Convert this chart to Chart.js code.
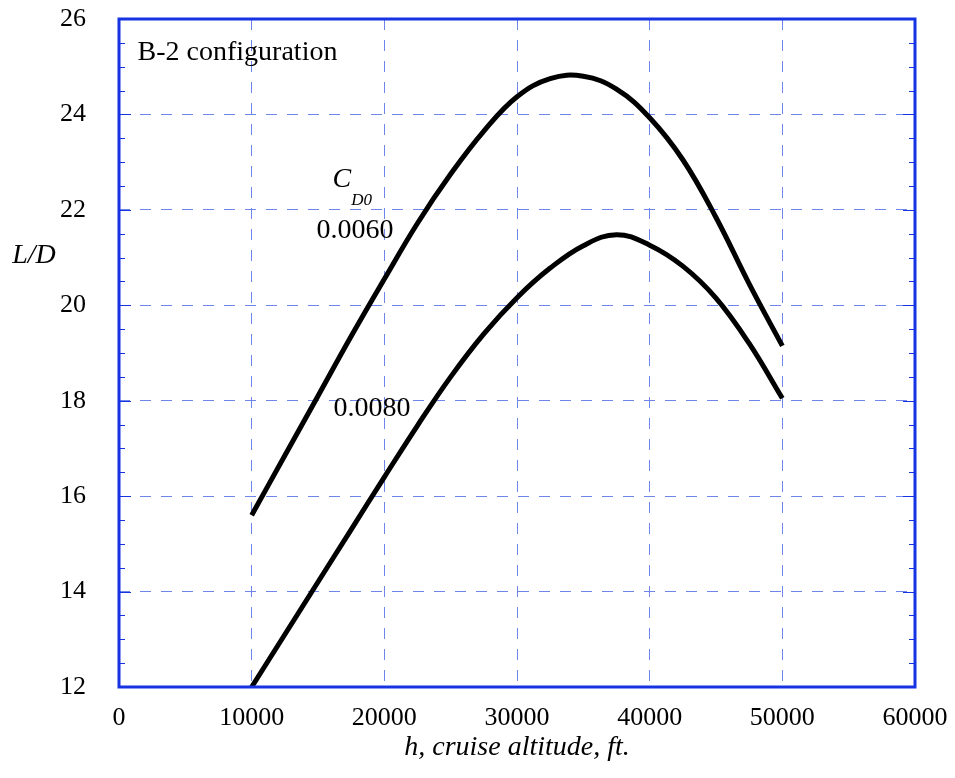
<!DOCTYPE html>
<html>
<head>
<meta charset="utf-8">
<script src="https://cdn.jsdelivr.net/npm/chart.js@4.4.1/dist/chart.umd.min.js"></script>
<style>
html,body{margin:0;padding:0;background:#fff;}
#wrap{width:955px;height:778px;position:relative;}
</style>
</head>
<body>
<div id="wrap"><canvas id="c" width="955" height="778"></canvas></div>
<script>
// ---- data ----
const altitude = [10000,12500,15000,17500,20000,22500,25000,27500,30000,32500,35000,37500,40000,42500,45000,47500,50000];
const ldUpper  = [15.6,16.85,18.1,19.35,20.55,21.72,22.75,23.65,24.37,24.75,24.8,24.53,23.93,23.05,21.84,20.45,19.15];
const ldLower  = [12.0,13.1,14.2,15.3,16.4,17.48,18.5,19.4,20.16,20.78,21.25,21.48,21.26,20.82,20.15,19.2,18.05];
const seriesNames = ['0.0060','0.0080'];
const xTicks = [0,10000,20000,30000,40000,50000,60000];
const yTicks = [12,14,16,18,20,22,24,26];
const titleText = 'B-2 configuration';
const xTitle = 'h, cruise altitude, ft.';
const yTitle = 'L/D';

const BLUE = '#1533e3';
const GRID = '#6e86ea';
const SERIF = '"Liberation Serif", "DejaVu Serif", serif';

const mk = (xs, ys) => xs.map((x,i)=>({x:x, y:ys[i]}));

const decor = {
  id:'decor',
  afterDraw(chart){
    const {ctx, chartArea:a, scales:{x, y}} = chart;
    ctx.save();
    ctx.strokeStyle = BLUE; ctx.lineWidth = 1.2;
    for (let v = 12.5; v < 26; v += 0.5){
      const py = Math.round(y.getPixelForValue(v)) + 0.5;
      const major = Math.abs(v/2 - Math.round(v/2)) < 1e-6;
      const len = major ? 12 : 6;
      ctx.beginPath();
      ctx.moveTo(a.left, py); ctx.lineTo(a.left + len, py);
      ctx.moveTo(a.right, py); ctx.lineTo(a.right - len, py);
      ctx.stroke();
    }
    ctx.strokeStyle = BLUE; ctx.lineWidth = 3;
    ctx.strokeRect(a.left, a.top, a.right - a.left, a.bottom - a.top);
    ctx.fillStyle = '#000';
    ctx.textBaseline = 'middle';
    ctx.textAlign = 'left';
    ctx.font = '28px ' + SERIF;
    ctx.fillText(titleText, x.getPixelForValue(1400), y.getPixelForValue(25.3));
    ctx.textAlign = 'center';
    ctx.fillText(seriesNames[0], x.getPixelForValue(17790), y.getPixelForValue(21.57));
    ctx.fillText(seriesNames[1], x.getPixelForValue(19070), y.getPixelForValue(17.84));
    ctx.textAlign = 'left';
    ctx.font = 'italic 28px ' + SERIF;
    ctx.fillText('C', x.getPixelForValue(16100), y.getPixelForValue(22.64));
    ctx.font = 'italic 17px ' + SERIF;
    ctx.fillText('D0', x.getPixelForValue(17500), y.getPixelForValue(22.2));
    ctx.font = 'italic 28px ' + SERIF;
    ctx.textAlign = 'center';
    ctx.fillText(yTitle, a.left - 85, y.getPixelForValue(21.05));
    ctx.fillText(xTitle, (a.left + a.right)/2 , a.bottom + 61);
    ctx.restore();
  }
};

new Chart(document.getElementById('c'), {
  type: 'line',
  data: {
    datasets: [
      {label: seriesNames[0], data: mk(altitude, ldUpper), borderColor:'#000', borderWidth:5, pointRadius:0, tension:0.4, fill:false},
      {label: seriesNames[1], data: mk(altitude, ldLower), borderColor:'#000', borderWidth:5, pointRadius:0, tension:0.4, fill:false}
    ]
  },
  options: {
    responsive:false,
    animation:false,
    devicePixelRatio:1,
    layout:{padding:{top:19, right:40, left:0, bottom:0}},
    plugins:{legend:{display:false}, tooltip:{enabled:false}},
    scales:{
      x:{
        type:'linear', min:0, max:60000,
        afterBuildTicks: s => { s.ticks = xTicks.map(v=>({value:v})); },
        afterFit: s => { s.height = 91; s.paddingLeft = 0; s.paddingRight = 0; },
        ticks:{ color:'#000', font:{family:SERIF, size:26}, padding:16, maxRotation:0, callback: v => String(v) },
        grid:{ color:GRID, lineWidth:1, drawTicks:false },
        border:{ display:false, dash:[11,10] }
      },
      y:{
        type:'linear', min:12, max:26,
        afterBuildTicks: s => { s.ticks = yTicks.map(v=>({value:v})); },
        afterFit: s => { s.width = 119; s.paddingTop = 0; s.paddingBottom = 0; },
        ticks:{ color:'#000', font:{family:SERIF, size:26}, padding:33, callback: v => String(v) },
        grid:{ color:GRID, lineWidth:1, drawTicks:false },
        border:{ display:false, dash:[11,10] }
      }
    }
  },
  plugins:[decor]
});
</script>
</body>
</html>
